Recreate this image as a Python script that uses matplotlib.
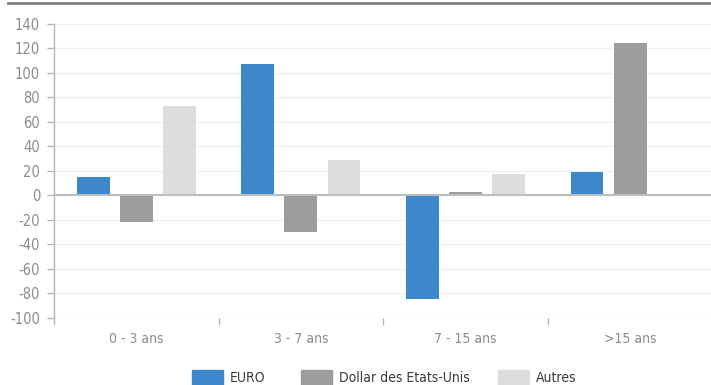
import matplotlib
matplotlib.use("Agg")
import matplotlib.pyplot as plt
from matplotlib.patches import Rectangle
from matplotlib.lines import Line2D
import numpy as np

plt.rcParams['font.family'] = ['DejaVu Sans']
plt.rcParams['font.stretch'] = 'condensed'

categories = ["0 - 3 ans", "3 - 7 ans", "7 - 15 ans", ">15 ans"]
series_names = ["EURO", "Dollar des Etats-Unis", "Autres"]
euro = [15, 107, -84.5, 19]
dollar = [-22, -30, 3, 124.5]
autres = [73, 29, 17.5, 0]
colors = ["#3d87cb", "#9d9d9d", "#dddddd"]
yticks = [-100, -80, -60, -40, -20, 0, 20, 40, 60, 80, 100, 120, 140]

W, H = 711, 385
fig = plt.figure(figsize=(W / 100, H / 100), dpi=100)
ax = fig.add_axes([54 / W, 1 - 317.7 / H, 658.4 / W, (317.7 - 24) / H])

x = np.arange(len(categories))
bar_w = 0.2
step = 0.262
for i, (vals, c) in enumerate(zip([euro, dollar, autres], colors)):
    ax.bar(x + (i - 1) * step, vals, width=bar_w, color=c, zorder=3)

ax.set_xlim(-0.5, len(categories) - 0.5)
ax.set_ylim(-100, 140)
ax.set_yticks(yticks)
ax.set_yticklabels([str(t) for t in yticks])
ax.grid(axis='y', color='#f0f0f0', linewidth=1.0, zorder=0)
ax.axhline(0, color='#bdbdbd', linewidth=1.5, zorder=4)

for s in ['top', 'right', 'bottom']:
    ax.spines[s].set_visible(False)
ax.spines['left'].set_color('#b5b5b5')
ax.spines['left'].set_linewidth(1.0)

ax.tick_params(axis='y', colors='#b5b5b5', labelcolor='#8c8c8c', labelsize=10.5,
               length=5, width=1.0, pad=5)
# category boundary ticks along the bottom
ax.set_xticks(np.arange(-0.5, len(categories) - 0.4, 1.0))
ax.set_xticklabels([])
ax.tick_params(axis='x', colors='#b5b5b5', length=5, width=1.0)
for xi, lab in zip(x, categories):
    ax.text(xi, -111.5, lab, ha='center', va='top', fontsize=10, color='#8c8c8c')

# heading rule
fig.add_artist(Line2D([8 / W, 1.0], [1 - 3 / H, 1 - 3 / H], color='#7f7f7f',
                      linewidth=2.0, transform=fig.transFigure))

# legend
sw_x = [192, 301, 498]
for name, c, sx in zip(series_names, colors, sw_x):
    fig.add_artist(Rectangle((sx / W, 0), 31 / W, 15 / H, color=c,
                             transform=fig.transFigure))
    fig.text((sx + 38) / W, 1 - 378.5 / H, name, ha='left', va='center',
             fontsize=10, color='#3a3a3a')

fig.savefig("out.png", dpi=100)
